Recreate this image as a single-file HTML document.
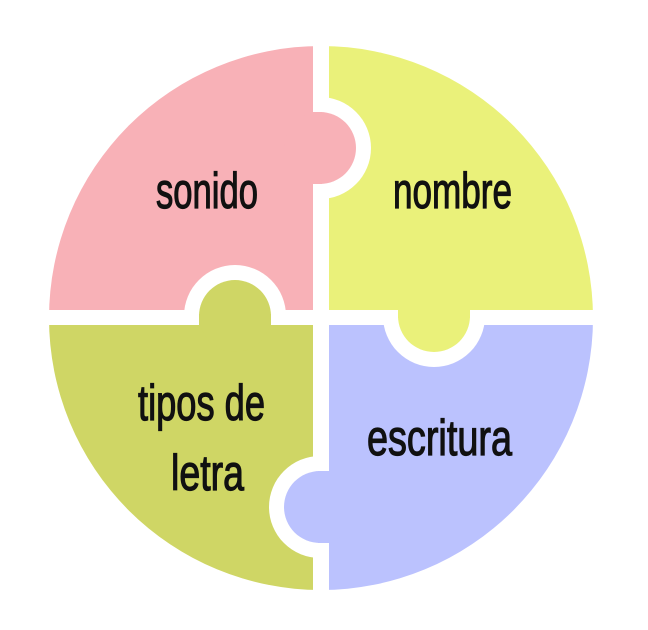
<!DOCTYPE html>
<html><head><meta charset="utf-8"><style>html,body{margin:0;padding:0;background:#fff}svg{display:block}</style></head>
<body>
<svg width="648" height="630" viewBox="0 0 648 630" xmlns="http://www.w3.org/2000/svg">
<defs>
<clipPath id="c"><circle cx="321" cy="318" r="272"/></clipPath>
<clipPath id="rY"><rect x="313" y="0" width="400" height="700"/></clipPath>
<clipPath id="rB"><rect x="0" y="310" width="700" height="400"/></clipPath>
<clipPath id="rP"><rect x="0" y="0" width="700" height="325"/></clipPath>
<clipPath id="rG"><rect x="0" y="0" width="329" height="700"/></clipPath>
</defs>
<g clip-path="url(#c)">
<rect x="40" y="40" width="273" height="270" fill="#f8b1b7"/>
<rect x="329" y="40" width="270" height="270" fill="#eaf17a"/>
<rect x="40" y="325" width="273" height="270" fill="#cfd665"/>
<rect x="329" y="325" width="270" height="270" fill="#bbc2fe"/>
</g>
<circle cx="320" cy="148" r="51" fill="#fff" clip-path="url(#rY)"/>
<circle cx="434" cy="316" r="51" fill="#fff" clip-path="url(#rB)"/>
<circle cx="235" cy="316" r="51" fill="#fff" clip-path="url(#rP)"/>
<circle cx="320" cy="507" r="51" fill="#fff" clip-path="url(#rG)"/>
<g fill="#f8b1b7"><circle cx="320" cy="148" r="36"/><rect x="310" y="112" width="12" height="72"/></g>
<g fill="#eaf17a"><circle cx="434" cy="316" r="36"/><rect x="398" y="306" width="72" height="12"/></g>
<g fill="#cfd665"><circle cx="235" cy="316" r="36"/><rect x="199" y="314" width="72" height="13"/></g>
<g fill="#bbc2fe"><circle cx="320" cy="507" r="36"/><rect x="318" y="471" width="13" height="72"/></g>
<g font-family="'Liberation Sans Narrow','Liberation Sans',sans-serif" font-size="50" fill="#111" stroke="#111" stroke-width="1.2">
<text x="156" y="208" textLength="102" lengthAdjust="spacingAndGlyphs">sonido</text>
<text x="393" y="208" textLength="119" lengthAdjust="spacingAndGlyphs">nombre</text>
<text x="138" y="420" textLength="127" lengthAdjust="spacingAndGlyphs">tipos de</text>
<text x="171" y="490" textLength="73" lengthAdjust="spacingAndGlyphs">letra</text>
<text x="367" y="455" textLength="145" lengthAdjust="spacingAndGlyphs">escritura</text>
</g>
</svg>
</body></html>
